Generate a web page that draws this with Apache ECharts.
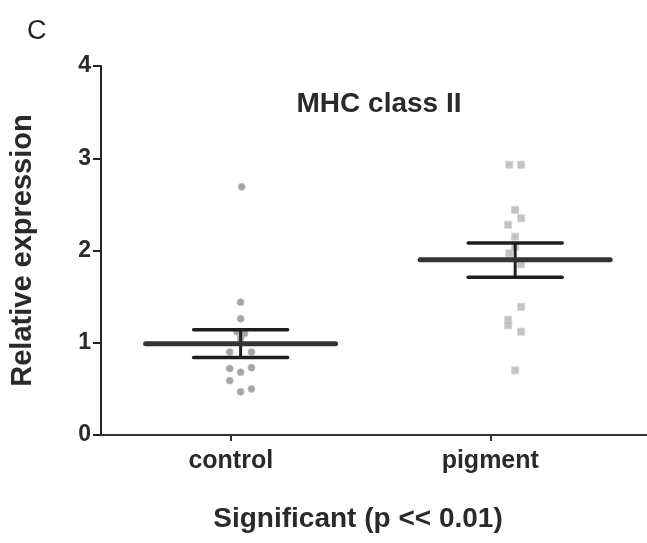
<!DOCTYPE html>
<html>
<head>
<meta charset="utf-8">
<script src="https://cdn.jsdelivr.net/npm/echarts@6/dist/echarts.min.js"></script>
<style>html,body{margin:0;padding:0;background:#fff}#c{width:647px;height:543px}</style>
</head>
<body>
<div id="c"></div>
<script>
var categories = ['control', 'pigment'];
var categoryTicks = [1, 2];
var groupCenters = [1.038, 2.096];
var controlValues = [2.69, 1.44, 1.26, 1.12, 1.10, 1.05, 0.90, 0.90, 0.73, 0.72, 0.68, 0.59, 0.50, 0.47];
var controlJitter = [0.004, 0, 0, -0.015, 0.015, 0, -0.042, 0.042, 0.042, -0.042, 0, -0.042, 0.042, 0];
var pigmentValues = [2.93, 2.93, 2.44, 2.35, 2.28, 2.15, 2.04, 1.97, 1.85, 1.39, 1.25, 1.19, 1.12, 0.70];
var pigmentJitter = [-0.023, 0.023, 0, 0.023, -0.027, 0, 0, -0.023, 0.023, 0.023, -0.027, -0.027, 0.023, 0];
var means = [0.99, 1.90];
var lowerErr = [0.84, 1.71];
var upperErr = [1.14, 2.08];
var yTicks = [0, 1, 2, 3, 4];

var FONT = '"Liberation Sans", Arial, sans-serif';

var controlData = controlValues.map(function (v, i) { return [groupCenters[0] + controlJitter[i], v]; });
var pigmentData = pigmentValues.map(function (v, i) { return [groupCenters[1] + pigmentJitter[i], v]; });
var summaryData = means.map(function (m, i) { return [groupCenters[i], m, lowerErr[i], upperErr[i]]; });

var chart = echarts.init(document.getElementById('c'));
chart.setOption({
  backgroundColor: '#fff',
  animation: false,
  title: [
    { text: 'C', left: 22, top: 13, textStyle: { fontFamily: FONT, fontWeight: 'normal', fontSize: 27, color: '#222' } },
    { text: 'MHC class II', left: 374, top: 85, textAlign: 'center', textStyle: { fontFamily: FONT, fontWeight: 'bold', fontSize: 28, color: '#2a2a2a' } }
  ],
  grid: { left: 100, right: 0, top: 66, bottom: 108 },
  xAxis: {
    type: 'value', min: 0.5, max: 2.604,
    name: 'Significant (p << 0.01)', nameLocation: 'middle', nameGap: 70,
    nameTextStyle: { fontFamily: FONT, fontWeight: 'bold', fontSize: 28, color: '#2a2a2a', padding: [0, 32, 0, 0] },
    axisLine: { show: true, lineStyle: { color: '#333', width: 2 } },
    axisTick: { show: true, length: 6, lineStyle: { color: '#333', width: 2 }, customValues: categoryTicks },
    axisLabel: {
      customValues: categoryTicks, margin: 14,
      fontFamily: FONT, fontWeight: 'bold', fontSize: 25, color: '#2a2a2a',
      formatter: function (v) { return categories[Math.round(v) - 1] || ''; }
    },
    splitLine: { show: false }
  },
  yAxis: {
    type: 'value', min: 0, max: 4, interval: 1,
    name: 'Relative expression', nameLocation: 'middle', nameGap: 64,
    nameTextStyle: { fontFamily: FONT, fontWeight: 'bold', fontSize: 29, color: '#2a2a2a' },
    axisLine: { show: true, lineStyle: { color: '#222', width: 2 } },
    axisTick: { show: true, length: 8, lineStyle: { color: '#222', width: 2 } },
    axisLabel: { margin: 10, fontFamily: FONT, fontWeight: 'bold', fontSize: 23, color: '#2a2a2a',
      formatter: function (v) { return yTicks.indexOf(v) >= 0 ? String(v) : ''; } },
    splitLine: { show: false }
  },
  series: [
    {
      type: 'scatter', data: controlData, symbol: 'circle', symbolSize: 7,
      itemStyle: { color: '#8e8e8e', borderColor: '#bcbcbc', borderWidth: 1 }, z: 2
    },
    {
      type: 'scatter', data: pigmentData, symbol: 'rect', symbolSize: 7,
      itemStyle: { color: '#b4b4b4', borderColor: '#d0d0d0', borderWidth: 1 }, z: 2
    },
    {
      type: 'custom', data: summaryData, z: 5,
      renderItem: function (params, api) {
        var c = api.coord([api.value(0), api.value(1)]);
        var lo = api.coord([api.value(0), api.value(2)]);
        var hi = api.coord([api.value(0), api.value(3)]);
        var meanHalf = 95, capHalf = 47;
        return {
          type: 'group',
          children: [
            { type: 'line', shape: { x1: c[0], y1: hi[1], x2: c[0], y2: lo[1] }, style: { stroke: '#222', lineWidth: 3 } },
            { type: 'line', shape: { x1: c[0] - capHalf, y1: hi[1], x2: c[0] + capHalf, y2: hi[1] }, style: { stroke: '#1e1e1e', lineWidth: 3.5, lineCap: 'round' } },
            { type: 'line', shape: { x1: c[0] - capHalf, y1: lo[1], x2: c[0] + capHalf, y2: lo[1] }, style: { stroke: '#1e1e1e', lineWidth: 3.5, lineCap: 'round' } },
            { type: 'line', shape: { x1: c[0] - meanHalf, y1: c[1], x2: c[0] + meanHalf, y2: c[1] }, style: { stroke: '#333', lineWidth: 5, lineCap: 'round' } }
          ]
        };
      }
    }
  ]
});
</script>
</body>
</html>
